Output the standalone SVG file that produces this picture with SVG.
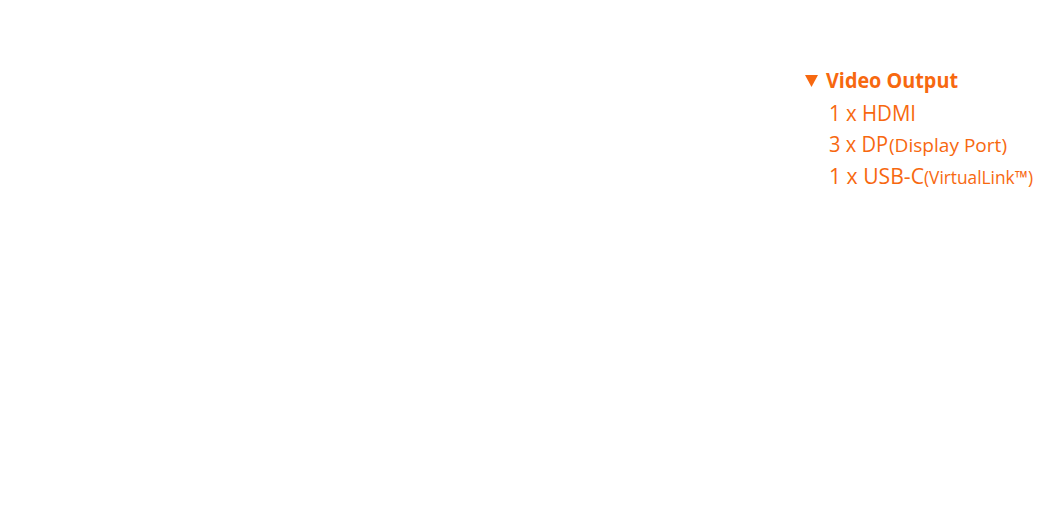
<svg xmlns="http://www.w3.org/2000/svg" width="1046" height="513" viewBox="0 0 1046 513">
<style>
text{font-family:"Open Sans","Liberation Sans",sans-serif;fill:#F7680F}
.t{font-weight:bold;font-size:22px}
.l{font-size:21px}
.s{font-size:18px}
</style>
<rect width="1046" height="513" fill="#fff"/>
<g id="video-output">
<polygon points="805,75 818,75 811.5,87" fill="#F7680F"/>
<text class="t" x="826" y="88" textLength="132" lengthAdjust="spacingAndGlyphs">Video Output</text>
<text class="l" x="829" y="121" textLength="87" lengthAdjust="spacingAndGlyphs">1 x HDMI</text>
<text x="829" y="152"><tspan class="l" textLength="59" lengthAdjust="spacingAndGlyphs">3 x DP</tspan><tspan class="s" x="889" textLength="118" lengthAdjust="spacingAndGlyphs">(Display Port)</tspan></text>
<text x="829" y="184"><tspan class="l" textLength="95" lengthAdjust="spacingAndGlyphs">1 x USB-C</tspan><tspan class="s" x="924" textLength="109" lengthAdjust="spacingAndGlyphs">(VirtualLink™)</tspan></text>
</g>
</svg>
